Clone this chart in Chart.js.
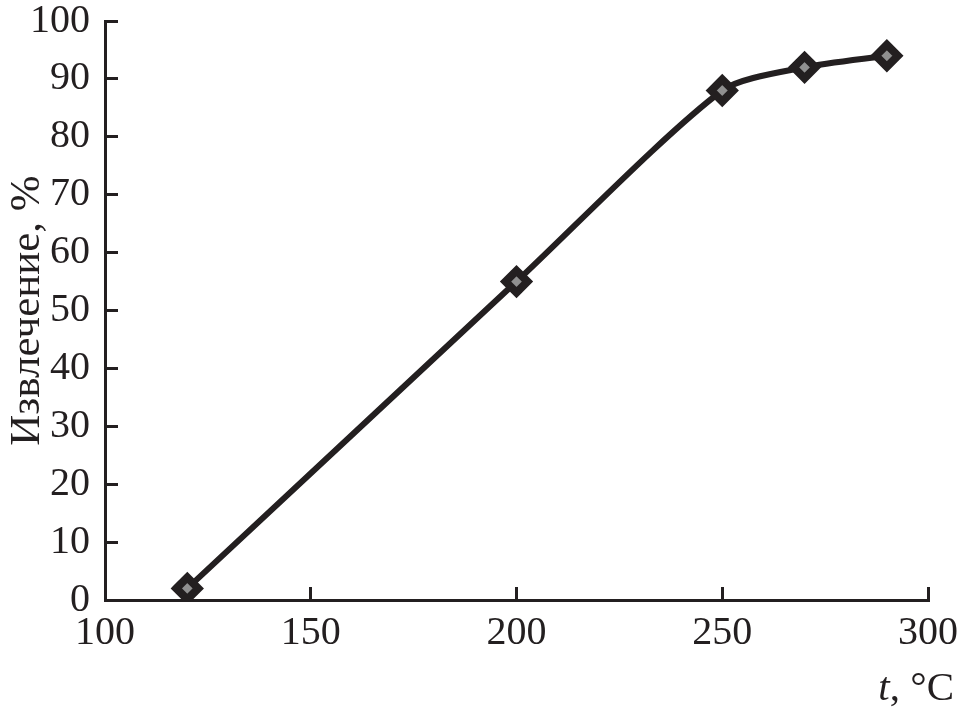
<!DOCTYPE html>
<html lang="ru">
<head>
  <meta charset="UTF-8" />
  <title>Извлечение</title>
  <script src="https://cdn.jsdelivr.net/npm/chart.js"></script>
  <style>
    html, body { margin: 0; padding: 0; background: #fff; }
    #wrap { width: 962px; height: 713px; }
  </style>
</head>
<body>
  <div id="wrap"><canvas id="myChart"></canvas></div>

  <script>
    // данные
    const temps = [120, 200, 250, 270, 290];
    const extraction = [2, 55, 88, 92, 94];
    const xTicks = [100, 150, 200, 250, 300];
    const yTicks = [0, 10, 20, 30, 40, 50, 60, 70, 80, 90, 100];

    const ink = '#231f20';
    const serif = '"Liberation Serif", "DejaVu Serif", serif';

    // подпись оси x: курсивная t и обычный ", °C"
    const xLabel = {
      id: 'xLabel',
      afterDraw(chart) {
        const ctx = chart.ctx;
        ctx.save();
        ctx.fillStyle = ink;
        ctx.textBaseline = 'alphabetic';
        ctx.font = '41px ' + serif;
        const rest = ', °C';
        const restW = ctx.measureText(rest).width;
        const right = 954, base = 700;
        ctx.textAlign = 'left';
        ctx.fillText(rest, right - restW, base);
        ctx.font = 'italic 41px ' + serif;
        const tW = ctx.measureText('t').width;
        ctx.fillText('t', right - restW - tW, base);
        ctx.restore();
      }
    };

    new Chart(document.getElementById('myChart'), {
      type: 'line',
      data: {
        datasets: [{
          data: temps.map((t, i) => ({ x: t, y: extraction[i] })),
          borderColor: ink,
          borderWidth: 6,
          tension: 0.25,
          pointStyle: 'rectRot',
          pointRadius: 11,
          pointBorderWidth: 8,
          pointBackgroundColor: '#909090',
          pointBorderColor: ink
        }]
      },
      options: {
        responsive: true,
        maintainAspectRatio: false,
        animation: false,
        layout: { padding: 0 },
        plugins: { legend: { display: false }, tooltip: { enabled: false } },
        scales: {
          x: {
            type: 'linear',
            min: 100, max: 300,
            afterBuildTicks: s => { s.ticks = xTicks.map(v => ({ value: v })); },
            afterFit: s => {
              s.height = 113;
              s.paddingLeft = 0;
              s.paddingRight = 34;
            },
            border: { color: ink, width: 3 },
            grid: { drawOnChartArea: false, tickLength: -13, color: ink, lineWidth: 3 },
            ticks: { color: ink, padding: 22, maxRotation: 0, font: { family: serif, size: 40 } }
          },
          y: {
            min: 0, max: 100,
            afterBuildTicks: s => { s.ticks = yTicks.map(v => ({ value: v })); },
            afterFit: s => {
              s.width = 105;
              s.paddingTop = 21;
              s.paddingBottom = 0;
            },
            border: { color: ink, width: 3 },
            grid: { drawOnChartArea: false, tickLength: -13, color: ink, lineWidth: 3 },
            ticks: { color: ink, padding: 28, font: { family: serif, size: 40 } },
            title: {
              display: true,
              text: 'Извлечение, %',
              color: ink,
              padding: { top: 2, bottom: 0 },
              font: { family: serif, size: 43 }
            }
          }
        }
      },
      plugins: [xLabel]
    });
  </script>
</body>
</html>
